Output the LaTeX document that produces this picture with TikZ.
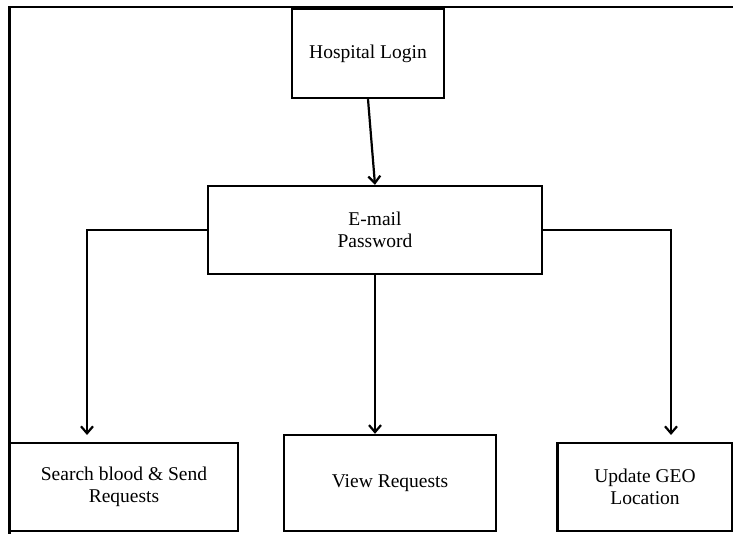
\documentclass[tikz,border=0pt]{standalone}
\usepackage{fontspec}
\setmainfont{Liberation Serif}
\usetikzlibrary{arrows.meta,calc}
\begin{document}
\begin{tikzpicture}[x=1pt,y=-1pt,
  box/.style={draw=black,line width=2.4pt,inner sep=0pt,align=center,
    font=\fontsize{19.5}{22.5}\selectfont},
  link/.style={line width=2.2pt,-{Straight Barb[length=7pt,width=12pt,line width=2.2pt]}},
  frame/.style={line width=2.4pt}]
  \useasboundingbox (0,0) rectangle (733,534);
  \fill[white] (0,0) rectangle (733,534);
  % outer frame (left and top edges only)
  \draw[frame] (9.5,534) -- (9.5,7) -- (733,7);

  % boxes
  \node[box,minimum width=152pt,minimum height=89pt] (login) at (368,53.5) {Hospital Login};
  \node[box,minimum width=334pt,minimum height=88pt] (cred) at (375,230) {E-mail\\Password};
  \node[box,minimum width=228pt,minimum height=88pt] (search) at (124,487) {Search blood \& Send\\Requests};
  \node[box,minimum width=212pt,minimum height=96pt] (view) at (390,483) {View Requests};
  \node[box,minimum width=175pt,minimum height=88pt] (geo) at (645,487) {Update GEO\\Location};

  % arrow end points above the side boxes
  \coordinate (lefttip) at (87,435);
  \coordinate (righttip) at (671,435);

  % connectors
  \draw[link] (login.south) -- (cred.north);
  \draw[link] (cred.west) -| (lefttip);
  \draw[link] (cred.east) -| (righttip);
  \draw[link] (cred.south) -- (cred.south |- view.north);
\end{tikzpicture}
\end{document}
